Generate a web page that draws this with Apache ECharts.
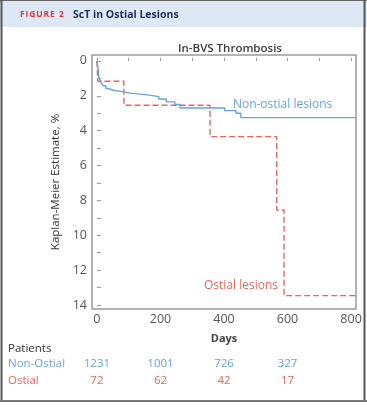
<!DOCTYPE html>
<html>
<head>
<meta charset="utf-8">
<script src="https://cdn.jsdelivr.net/npm/echarts@6/dist/echarts.min.js"></script>
<style>
  html, body { margin: 0; padding: 0; background: #fff; }
  #chart { width: 367px; height: 409px; }
</style>
</head>
<body>
<div id="chart"></div>
<script>
// Kaplan-Meier steps, [day, estimate %]
var nonOstial = [[0, 0], [4, 0.5], [6, 0.92], [10, 1.15], [15, 1.3], [20, 1.42], [28, 1.58],
  [35, 1.68], [52, 1.76], [80, 1.85], [105, 1.95], [160, 2.05], [195, 2.18], [218, 2.35],
  [245, 2.5], [262, 2.7], [402, 2.85], [438, 3.0], [453, 3.25], [815, 3.25]];
var ostial = [[0, 0], [3, 1.17], [85, 2.54], [356, 4.34], [566, 8.55], [589, 13.46], [815, 13.46]];

var dayTicks = [0, 100, 200, 300, 400, 500, 600, 700, 800];
var dayLabels = [0, 200, 400, 600, 800];
var pctTicks = [0, 1, 2, 3, 4, 5, 6, 7, 8, 9, 10, 11, 12, 13, 14];
var pctLabels = [0, 2, 4, 6, 8, 10, 12, 14];

var riskDays = [0, 200, 400, 600];
var riskNonOstial = [1231, 1001, 726, 327];
var riskOstial = [72, 62, 42, 17];

var BLUE = '#67a3dc';
var RED = '#e8675c';
var FONT = 'Open Sans';

var myChart = echarts.init(document.getElementById('chart'));

myChart.setOption({
  animation: false,
  textStyle: { fontFamily: FONT },
  title: {
    text: 'In-BVS Thrombosis',
    left: 225,
    textAlign: 'center',
    top: 38,
    textStyle: { fontSize: 11.5, fontWeight: 600, color: '#3a3a3a', fontFamily: FONT }
  },
  grid: {
    left: 92, top: 55, right: 11, bottom: 100,
    show: true, borderColor: '#9a9a9a', borderWidth: 1.5
  },
  xAxis: {
    type: 'value',
    min: -15.5, max: 815.5,
    name: 'Days',
    nameLocation: 'middle',
    nameGap: 24,
    nameTextStyle: { fontSize: 11, fontWeight: 'bold', color: '#444' },
    axisLine: { show: false },
    splitLine: { show: false },
    axisTick: { customValues: dayTicks, inside: true, length: 3, lineStyle: { color: '#999' } },
    axisLabel: { customValues: dayLabels, color: '#555', fontSize: 12.5, margin: 4 }
  },
  yAxis: {
    type: 'value',
    inverse: true,
    min: -0.34, max: 14.23,
    name: 'Kaplan-Meier Estimate, %',
    nameLocation: 'middle',
    nameGap: 29,
    nameTextStyle: { fontSize: 11.5, color: '#333' },
    axisLine: { show: false },
    splitLine: { show: false },
    axisTick: { customValues: pctTicks, inside: true, length: 4, lineStyle: { color: '#999' } },
    axisLabel: { customValues: pctLabels, color: '#555', fontSize: 12.5, margin: 5 }
  },
  series: [
    {
      name: 'Non-ostial lesions',
      type: 'line',
      step: 'end',
      showSymbol: false,
      data: nonOstial,
      lineStyle: { color: BLUE, width: 1.4 },
      z: 3
    },
    {
      name: 'Ostial lesions',
      type: 'line',
      step: 'end',
      showSymbol: false,
      data: ostial,
      lineStyle: { color: RED, width: 1.4, type: [6, 3] },
      z: 2
    }
  ]
});

// decorations, table and annotations placed from the chart's scales
function px(d, v) { return myChart.convertToPixel({ gridIndex: 0 }, [d, v]); }

var g = [
  { type: 'rect', shape: { x: 0, y: 0, width: 367, height: 27 }, style: { fill: '#dde8f4' }, z: -10 },
  { type: 'line', shape: { x1: 0, y1: 0.5, x2: 367, y2: 0.5 }, style: { stroke: '#666', lineWidth: 1 } },
  { type: 'line', shape: { x1: 1.5, y1: 0, x2: 1.5, y2: 401 }, style: { stroke: '#555', lineWidth: 2 } },
  { type: 'line', shape: { x1: 364.5, y1: 0, x2: 364.5, y2: 401 }, style: { stroke: '#555', lineWidth: 2 } },
  { type: 'line', shape: { x1: 0, y1: 401, x2: 367, y2: 401 }, style: { stroke: '#777', lineWidth: 2 } },
  { type: 'text', x: 20, y: 15, style: { text: 'F\u200aI\u200aG\u200aU\u200aR\u200aE  2', fill: '#e0353a', font: 'bold 8.5px ' + FONT, textVerticalAlign: 'middle' } },
  { type: 'text', x: 73, y: 15, style: { text: 'ScT in Ostial Lesions', fill: '#1f2d57', font: 'bold 10.5px ' + FONT, textVerticalAlign: 'middle' } }
];

var p1 = px(428, 2.52);
g.push({ type: 'text', x: p1[0], y: p1[1], style: { text: 'Non-ostial lesions', fill: BLUE, font: '12px ' + FONT, textVerticalAlign: 'middle' } });
var p2 = px(570, 12.9);
g.push({ type: 'text', x: p2[0], y: p2[1], style: { text: 'Ostial lesions', fill: RED, font: '12px ' + FONT, textAlign: 'right', textVerticalAlign: 'middle' } });

g.push({ type: 'text', x: 8, y: 349, style: { text: 'Patients', fill: '#333', font: '11.5px ' + FONT, textVerticalAlign: 'middle' } });
g.push({ type: 'text', x: 8, y: 364, style: { text: 'Non-Ostial', fill: BLUE, font: '11.5px ' + FONT, textVerticalAlign: 'middle' } });
g.push({ type: 'text', x: 8, y: 381, style: { text: 'Ostial', fill: RED, font: '11.5px ' + FONT, textVerticalAlign: 'middle' } });
riskDays.forEach(function (d, i) {
  var x = px(d, 0)[0];
  g.push({ type: 'text', x: x, y: 364, style: { text: String(riskNonOstial[i]), fill: BLUE, font: '11.5px ' + FONT, textAlign: 'center', textVerticalAlign: 'middle' } });
  g.push({ type: 'text', x: x, y: 381, style: { text: String(riskOstial[i]), fill: RED, font: '11.5px ' + FONT, textAlign: 'center', textVerticalAlign: 'middle' } });
});

myChart.setOption({ graphic: g });
</script>
</body>
</html>
